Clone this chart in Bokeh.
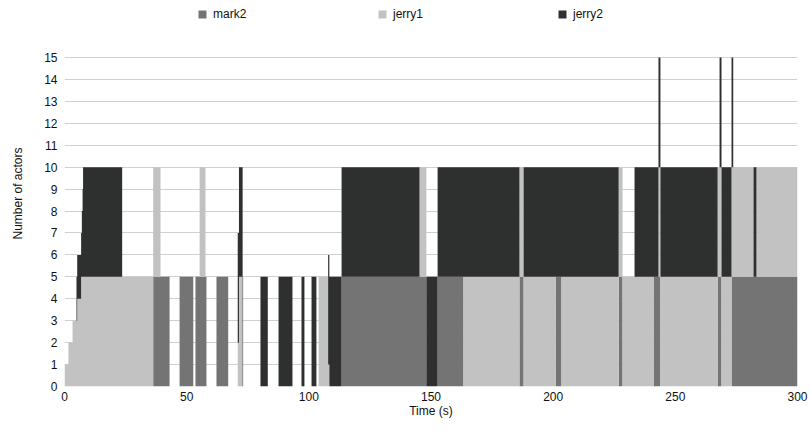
from bokeh.plotting import figure
from bokeh.models import ColumnDataSource, Range1d, FixedTicker
from bokeh.embed import file_html
from bokeh.resources import INLINE

# Segment start times (s); each segment lasts until the next start, the last until T_END
seg_start = [0, 1.6, 3.3, 4.9, 5.2, 6.8, 7.1, 7.4, 7.6, 23.6,
             36.3, 39.3, 43.0, 47.1, 52.7, 53.6, 55.3, 57.7, 58.1, 62.2,
             67.0, 70.9, 71.4, 72.9, 73.1, 80.2, 83.2, 87.6, 93.3, 97.0,
             98.2, 101.1, 103.1, 104.0, 107.9, 108.4, 113.4, 145.3, 148.1, 152.7,
             163.3, 186.2, 187.9, 201.0, 203.4, 226.8, 228.4, 233.3, 241.1, 243.1,
             243.9, 267.3, 268.1, 268.9, 273.0, 273.7, 282.0, 283.2]
T_END = 300

mark2 = [0, 0, 0, 0, 0, 0, 0, 0, 0, 0,
         5, 5, 0, 5, 0, 5, 5, 5, 0, 5,
         0, 0, 0, 0, 0, 0, 0, 0, 0, 0,
         0, 0, 0, 0, 0, 0, 5, 5, 0, 5,
         0, 5, 0, 5, 0, 5, 0, 0, 5, 5,
         0, 5, 5, 0, 5, 5, 5, 5]

jerry1 = [1, 2, 3, 3, 4, 5, 5, 5, 5, 5,
          5, 0, 0, 0, 0, 0, 5, 0, 0, 0,
          0, 2, 5, 0, 0, 0, 0, 0, 0, 0,
          0, 0, 0, 5, 1, 0, 0, 5, 0, 0,
          5, 5, 5, 0, 5, 5, 5, 5, 0, 5,
          5, 5, 5, 5, 5, 5, 0, 5]

jerry2 = [0, 0, 0, 2, 2, 2, 3, 4, 5, 0,
          0, 0, 0, 0, 0, 0, 0, 0, 0, 0,
          0, 5, 5, 5, 0, 5, 0, 5, 0, 5,
          0, 5, 0, 0, 5, 5, 5, 0, 5, 5,
          5, 0, 5, 5, 5, 0, 0, 5, 5, 5,
          5, 0, 5, 5, 5, 0, 5, 0]

series = ["mark2", "jerry1", "jerry2"]
colors = ["#737473", "#c1c2c1", "#2e302f"]
x_ticks = [0, 50, 100, 150, 200, 250, 300]
y_ticks = list(range(16))

# step representation
seg_end = seg_start[1:] + [T_END]
xs, m2, j1, j2 = [], [], [], []
for s, e, a, b, c in zip(seg_start, seg_end, mark2, jerry1, jerry2):
    xs += [s, e]
    m2 += [a, a]
    j1 += [b, b]
    j2 += [c, c]
src = ColumnDataSource(dict(t=xs, mark2=m2, jerry1=j1, jerry2=j2))

FONT = "Liberation Sans"

# frame extends above y=15 to host the legend; the axis itself is bounded to 0..15
p = figure(frame_width=733, frame_height=386,
           x_range=Range1d(0, 300), y_range=Range1d(0, 17.6),
           output_backend="svg", toolbar_location=None,
           min_border_left=64, min_border_right=11,
           min_border_top=0, min_border_bottom=44)

p.varea_stack(series, x="t", color=colors, source=src, legend_label=series)

p.outline_line_color = None
p.xgrid.visible = False
p.ygrid.grid_line_color = "#d0d0d0"
p.ygrid.grid_line_width = 1

p.xaxis.ticker = FixedTicker(ticks=x_ticks)
p.yaxis.ticker = FixedTicker(ticks=y_ticks)
p.yaxis.bounds = (0, 15)
for ax in (p.xaxis[0], p.yaxis[0]):
    ax.axis_line_color = None
    ax.major_tick_line_color = None
    ax.minor_tick_line_color = None
    ax.major_tick_out = 0
    ax.major_tick_in = 0
    ax.minor_tick_out = 0
    ax.minor_tick_in = 0
    ax.major_label_text_font = FONT
    ax.major_label_text_font_size = "12px"
    ax.major_label_text_color = "#111111"
    ax.axis_label_text_font = FONT
    ax.axis_label_text_font_size = "12px"
    ax.axis_label_text_font_style = "normal"
    ax.axis_label_text_color = "#111111"

p.xaxis.axis_label = "Time (s)"
p.xaxis.major_label_standoff = 5
p.xaxis.axis_label_standoff = 0
p.yaxis.axis_label = "Number of actors"
p.yaxis.major_label_standoff = 7
p.yaxis.axis_label_standoff = 16

lg = p.legend[0]
lg.orientation = "horizontal"
lg.location = (133, 365)
lg.glyph_width = 10
lg.glyph_height = 10
lg.label_standoff = 6
lg.label_width = 164
lg.label_height = 12
lg.spacing = 0
lg.padding = 0
lg.margin = 0
lg.border_line_color = None
lg.background_fill_alpha = 0
lg.label_text_font = FONT
lg.label_text_font_size = "12px"
lg.label_text_color = "#111111"

open("out.html", "w").write(file_html(p, INLINE))
